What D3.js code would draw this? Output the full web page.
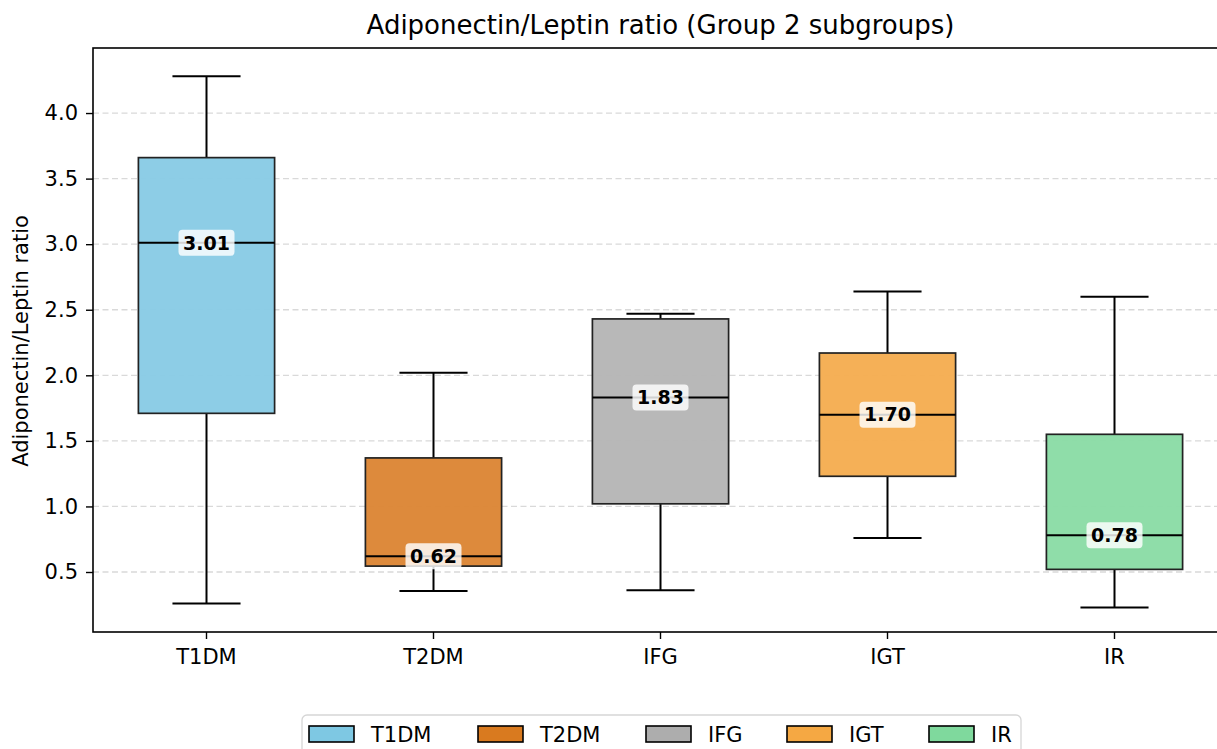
<!DOCTYPE html>
<html>
<head>
<meta charset="utf-8">
<script src="https://cdn.jsdelivr.net/npm/d3@7"></script>
<style>
  html, body { margin: 0; padding: 0; background: #fff; }
  svg { display: block; font-family: "DejaVu Sans", sans-serif; }
</style>
</head>
<body>
<svg id="chart" width="1217" height="749"></svg>
<script>
// Group 2 subgroup summary statistics for the adiponectin/leptin ratio
const groups   = ["T1DM", "T2DM", "IFG", "IGT", "IR"];
const whiskLo  = [0.26, 0.355, 0.36, 0.76, 0.23];
const q1       = [1.71, 0.545, 1.02, 1.23, 0.52];
const medians  = [3.01, 0.62, 1.83, 1.70, 0.78];
const q3       = [3.66, 1.37, 2.43, 2.17, 1.55];
const whiskHi  = [4.28, 2.02, 2.47, 2.64, 2.60];
const boxColors    = ["#89CBE5", "#DC8636", "#B6B6B6", "#F5AD52", "#8BDCA6"];
const legendColors = ["#7EC8E3", "#D97A1F", "#ADADAD", "#F5A843", "#7FD99D"];
const yTicks = [0.5, 1.0, 1.5, 2.0, 2.5, 3.0, 3.5, 4.0];

const svg = d3.select("#chart");
const margin = { left: 93, top: 48, right: 1228, bottom: 632 };

const x = d3.scaleBand().domain(groups).range([margin.left, margin.right]).paddingInner(0).paddingOuter(0);
const y = d3.scaleLinear().domain([0.0425, 4.496]).range([margin.bottom, margin.top]);
const boxW = x.bandwidth() * 0.6;
const capW = boxW / 2;
const cx = g => x(g) + x.bandwidth() / 2;

// horizontal dashed grid
svg.append("g").selectAll("line").data(yTicks).join("line")
  .attr("x1", margin.left).attr("x2", margin.right)
  .attr("y1", d => y(d)).attr("y2", d => y(d))
  .attr("stroke", "#d9d9d9").attr("stroke-width", 1.3)
  .attr("stroke-dasharray", "6,3.5");

const data = groups.map((g, i) => ({
  g, lo: whiskLo[i], q1: q1[i], med: medians[i], q3: q3[i], hi: whiskHi[i],
  fill: boxColors[i]
}));

const boxes = svg.append("g").selectAll("g").data(data).join("g");

// whiskers
boxes.append("line")
  .attr("x1", d => cx(d.g)).attr("x2", d => cx(d.g))
  .attr("y1", d => y(d.q1)).attr("y2", d => y(d.lo))
  .attr("stroke", "#000").attr("stroke-width", 2);
boxes.append("line")
  .attr("x1", d => cx(d.g)).attr("x2", d => cx(d.g))
  .attr("y1", d => y(d.q3)).attr("y2", d => y(d.hi))
  .attr("stroke", "#000").attr("stroke-width", 2);
// caps
["lo", "hi"].forEach(k => {
  boxes.append("line")
    .attr("x1", d => cx(d.g) - capW / 2).attr("x2", d => cx(d.g) + capW / 2)
    .attr("y1", d => y(d[k])).attr("y2", d => y(d[k]))
    .attr("stroke", "#000").attr("stroke-width", 2);
});
// boxes
boxes.append("rect")
  .attr("x", d => cx(d.g) - boxW / 2).attr("width", boxW)
  .attr("y", d => y(d.q3)).attr("height", d => y(d.q1) - y(d.q3))
  .attr("fill", d => d.fill).attr("fill-opacity", 0.97)
  .attr("stroke", "#222").attr("stroke-width", 1.7);
// medians
boxes.append("line")
  .attr("x1", d => cx(d.g) - boxW / 2).attr("x2", d => cx(d.g) + boxW / 2)
  .attr("y1", d => y(d.med)).attr("y2", d => y(d.med))
  .attr("stroke", "#000").attr("stroke-width", 2);

// median value labels
const labels = boxes.append("g")
  .attr("transform", d => `translate(${cx(d.g)},${y(d.med)})`);
labels.append("rect")
  .attr("x", -28).attr("y", -13).attr("width", 56).attr("height", 26)
  .attr("rx", 4).attr("fill", "#fff").attr("fill-opacity", 0.82);
labels.append("text")
  .attr("text-anchor", "middle").attr("dy", "0.36em")
  .attr("font-size", 19).attr("font-weight", "bold").attr("fill", "#000")
  .text(d => d.med.toFixed(2));

// axes
const yAxis = svg.append("g").attr("transform", `translate(${margin.left},0)`)
  .call(d3.axisLeft(y).tickValues(yTicks).tickFormat(d3.format(".1f")).tickSize(7).tickPadding(8));
const xAxis = svg.append("g").attr("transform", `translate(0,${margin.bottom})`)
  .call(d3.axisBottom(x).tickSize(7).tickPadding(10));
[yAxis, xAxis].forEach(a => {
  a.select(".domain").remove();
  a.selectAll("line").attr("stroke", "#000").attr("stroke-width", 1.4);
  a.selectAll("text").attr("font-size", 21).attr("fill", "#000")
    .attr("font-family", "DejaVu Sans, sans-serif");
});

// frame
svg.append("rect")
  .attr("x", margin.left).attr("y", margin.top)
  .attr("width", margin.right - margin.left).attr("height", margin.bottom - margin.top)
  .attr("fill", "none").attr("stroke", "#000").attr("stroke-width", 1.6);

// title and y label
svg.append("text")
  .attr("x", (margin.left + margin.right) / 2).attr("y", 34)
  .attr("text-anchor", "middle").attr("font-size", 26).attr("fill", "#000")
  .text("Adiponectin/Leptin ratio (Group 2 subgroups)");
svg.append("text")
  .attr("transform", `translate(28,${(margin.top + margin.bottom) / 2 + 1}) rotate(-90)`)
  .attr("text-anchor", "middle").attr("font-size", 21).attr("fill", "#000")
  .text("Adiponectin/Leptin ratio");

// legend
const legend = svg.append("g");
legend.append("rect")
  .attr("x", 302).attr("y", 715).attr("width", 719).attr("height", 60)
  .attr("rx", 5).attr("fill", "#fff").attr("fill-opacity", 0.8)
  .attr("stroke", "#d6d6d6").attr("stroke-width", 1.3);
const legendX = [309, 478, 646, 787, 929];
const items = legend.selectAll("g.item").data(groups).join("g").attr("class", "item")
  .attr("transform", (d, i) => `translate(${legendX[i]},726)`);
items.append("rect")
  .attr("width", 45).attr("height", 16)
  .attr("fill", (d, i) => legendColors[i]).attr("stroke", "#000").attr("stroke-width", 1.6);
items.append("text")
  .attr("x", 62).attr("y", 16).attr("font-size", 21).attr("fill", "#000")
  .text(d => d);
</script>
</body>
</html>
